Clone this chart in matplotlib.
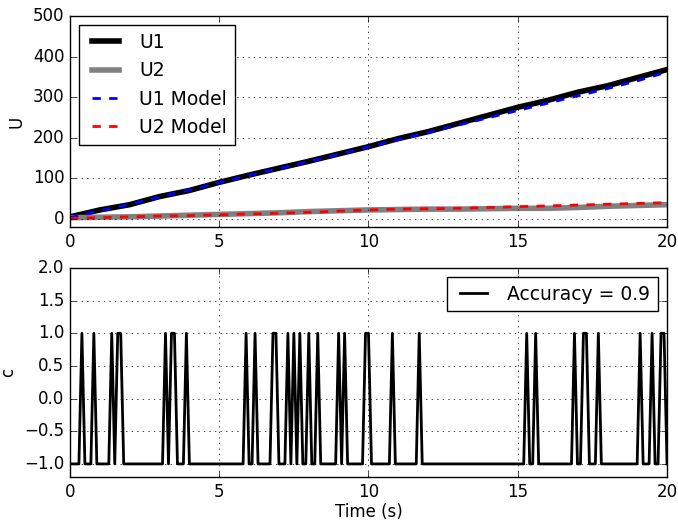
import matplotlib
matplotlib.use("Agg")
import matplotlib.pyplot as plt
import numpy as np

t_u = [0, 1, 2, 3, 4, 5, 6, 7, 8, 9, 10, 11, 12, 13, 14, 15, 16, 17, 18, 19, 20]
u1 = [5, 22, 35, 55, 70, 90, 108, 125, 142, 160, 178, 198, 215, 235, 255, 275, 292, 312, 328, 348, 368]
u2 = [3, 4, 5, 7, 9, 11, 13, 15, 18, 20, 22, 23, 24, 24, 25, 26, 26, 28, 31, 33, 35]
u1_model = [3, 20, 36, 54, 71, 89, 107, 124, 141, 159, 177, 195, 213, 231, 249, 267, 285, 303, 321, 340, 362]
u2_model = [1, 3, 5, 7, 8, 10, 12, 14, 16, 19, 22, 24, 25, 26, 28, 30, 32, 34, 36, 38, 40]

##bottom panel: times (s) where c jumps to +1, otherwise -1
spike_times = [0.4, 0.8, 1.4, 1.6, 1.7, 3.2, 3.4, 3.5, 3.9, 5.9, 6.2, 6.8, 6.9,
               7.3, 7.5, 7.7, 8.0, 8.3, 9.0, 9.2, 9.9, 10.0, 10.8, 11.7,
               15.3, 15.6, 16.9, 17.2, 17.3, 17.7, 19.1, 19.5, 19.8, 19.9]
accuracy = 0.9

t_c = np.round(np.arange(0, 201) * 0.1, 1)
c = np.where(np.isin(t_c, np.round(spike_times, 1)), 1.0, -1.0)

plt.style.use('classic')
plt.rcParams['savefig.facecolor'] = 'white'
plt.rcParams['figure.facecolor'] = 'white'
plt.rcParams['legend.fontsize'] = 13.5

fig = plt.figure(figsize=(6.78, 5.23), dpi=100)
ax1 = fig.add_axes([0.1032, 0.566, 0.8806, 0.4034])
ax2 = fig.add_axes([0.1032, 0.088, 0.8806, 0.3996])

ax1.plot(t_u, u1, color='k', lw=4, label='U1')
ax1.plot(t_u, u2, color='gray', lw=4, label='U2')
ax1.plot(t_u, u1_model, 'b--', lw=2, label='U1 Model')
ax1.plot(t_u, u2_model, 'r--', lw=2, label='U2 Model')
ax1.set_xlim(0, 20)
ax1.set_ylim(-20, 500)
ax1.set_ylabel('U')
ax1.grid(True)
ax1.legend(loc='upper left')

ax2.plot(t_c, c, color='k', lw=2, label=f'Accuracy = {accuracy}')
ax2.set_xlim(0, 20)
ax2.set_ylim(-1.2, 2.0)
ax2.set_ylabel('c')
ax2.set_xlabel('Time (s)', labelpad=2)
ax2.grid(True)
ax2.legend(loc='upper right')

fig.savefig('out.png', dpi=100)
